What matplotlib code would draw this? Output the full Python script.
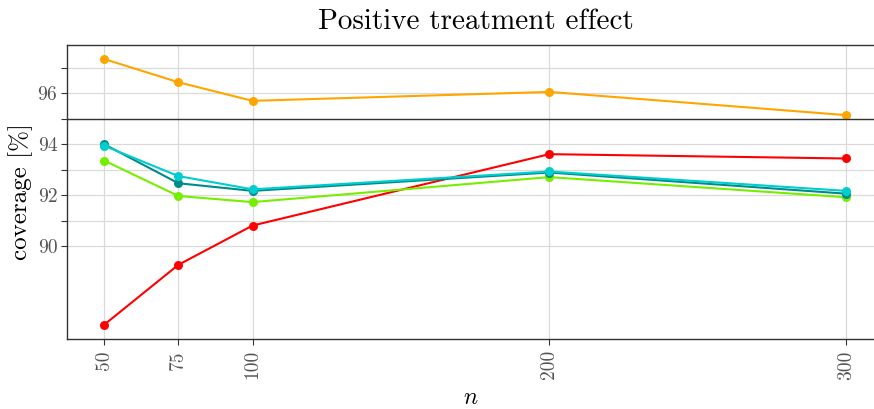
import matplotlib
matplotlib.use("Agg")
import matplotlib.pyplot as plt
from matplotlib.ticker import FixedLocator

plt.rcParams['font.family'] = ['cmr10', 'DejaVu Serif']
plt.rcParams['mathtext.fontset'] = 'cm'
plt.rcParams['axes.formatter.use_mathtext'] = True

n = [50, 75, 100, 200, 300]
series_orange = [97.35, 96.44, 95.71, 96.06, 95.15]
series_red = [86.93, 89.28, 90.82, 93.62, 93.45]
series_green = [93.37, 91.98, 91.74, 92.72, 91.93]
series_darkcyan = [94.01, 92.48, 92.18, 92.90, 92.07]
series_cyan = [93.95, 92.76, 92.24, 92.94, 92.18]
colors = {"orange": "#FFA500", "red": "#FF0000", "green": "#76EE00",
          "darkcyan": "#008B8B", "cyan": "#00CDCD"}

y_major = [90, 92, 94, 96]
y_minor = [91, 93, 95, 97]

fig = plt.figure(figsize=(8.74, 4.09), dpi=100)
ax = fig.add_axes([0.0767, 0.171, 0.9233, 0.719])

for vals, key in [(series_red, "red"), (series_orange, "orange"),
                  (series_green, "green"), (series_darkcyan, "darkcyan"),
                  (series_cyan, "cyan")]:
    ax.plot(n, vals, color=colors[key], lw=1.5, marker='o', ms=6.5,
            markeredgewidth=0, zorder=3)

ax.axhline(95, color='#333333', lw=1.0, zorder=4)

ax.set_xlim(37.5, 309.4)
ax.set_ylim(86.37, 97.9)
ax.xaxis.set_major_locator(FixedLocator(n))
ax.yaxis.set_major_locator(FixedLocator(y_major))
ax.yaxis.set_minor_locator(FixedLocator(y_minor))
ax.set_xticklabels([str(v) for v in n], rotation=90)
ax.set_yticklabels([str(v) for v in y_major])

ax.grid(True, which='major', color='#DADADA', lw=0.9, zorder=0)
ax.grid(True, which='minor', axis='y', color='#DADADA', lw=0.9, zorder=0)
ax.set_axisbelow(True)

for s in ['left', 'bottom', 'top']:
    ax.spines[s].set_color('#333333')
    ax.spines[s].set_linewidth(1.0)
ax.spines['right'].set_visible(False)

ax.tick_params(axis='both', which='both', colors='#333333', length=4,
               width=0.8, labelsize=14, labelcolor='#555555')
ax.tick_params(axis='x', pad=4)
ax.tick_params(axis='y', pad=3)

ax.set_xlabel(r'$n$', fontsize=17, labelpad=5)
ax.set_ylabel('coverage [%]', fontsize=18, labelpad=3)
fig.text(0.545, 1 - 22 / 409, 'Positive treatment effect', fontsize=21,
         ha='center', va='center')

fig.savefig('out.png', dpi=100)
